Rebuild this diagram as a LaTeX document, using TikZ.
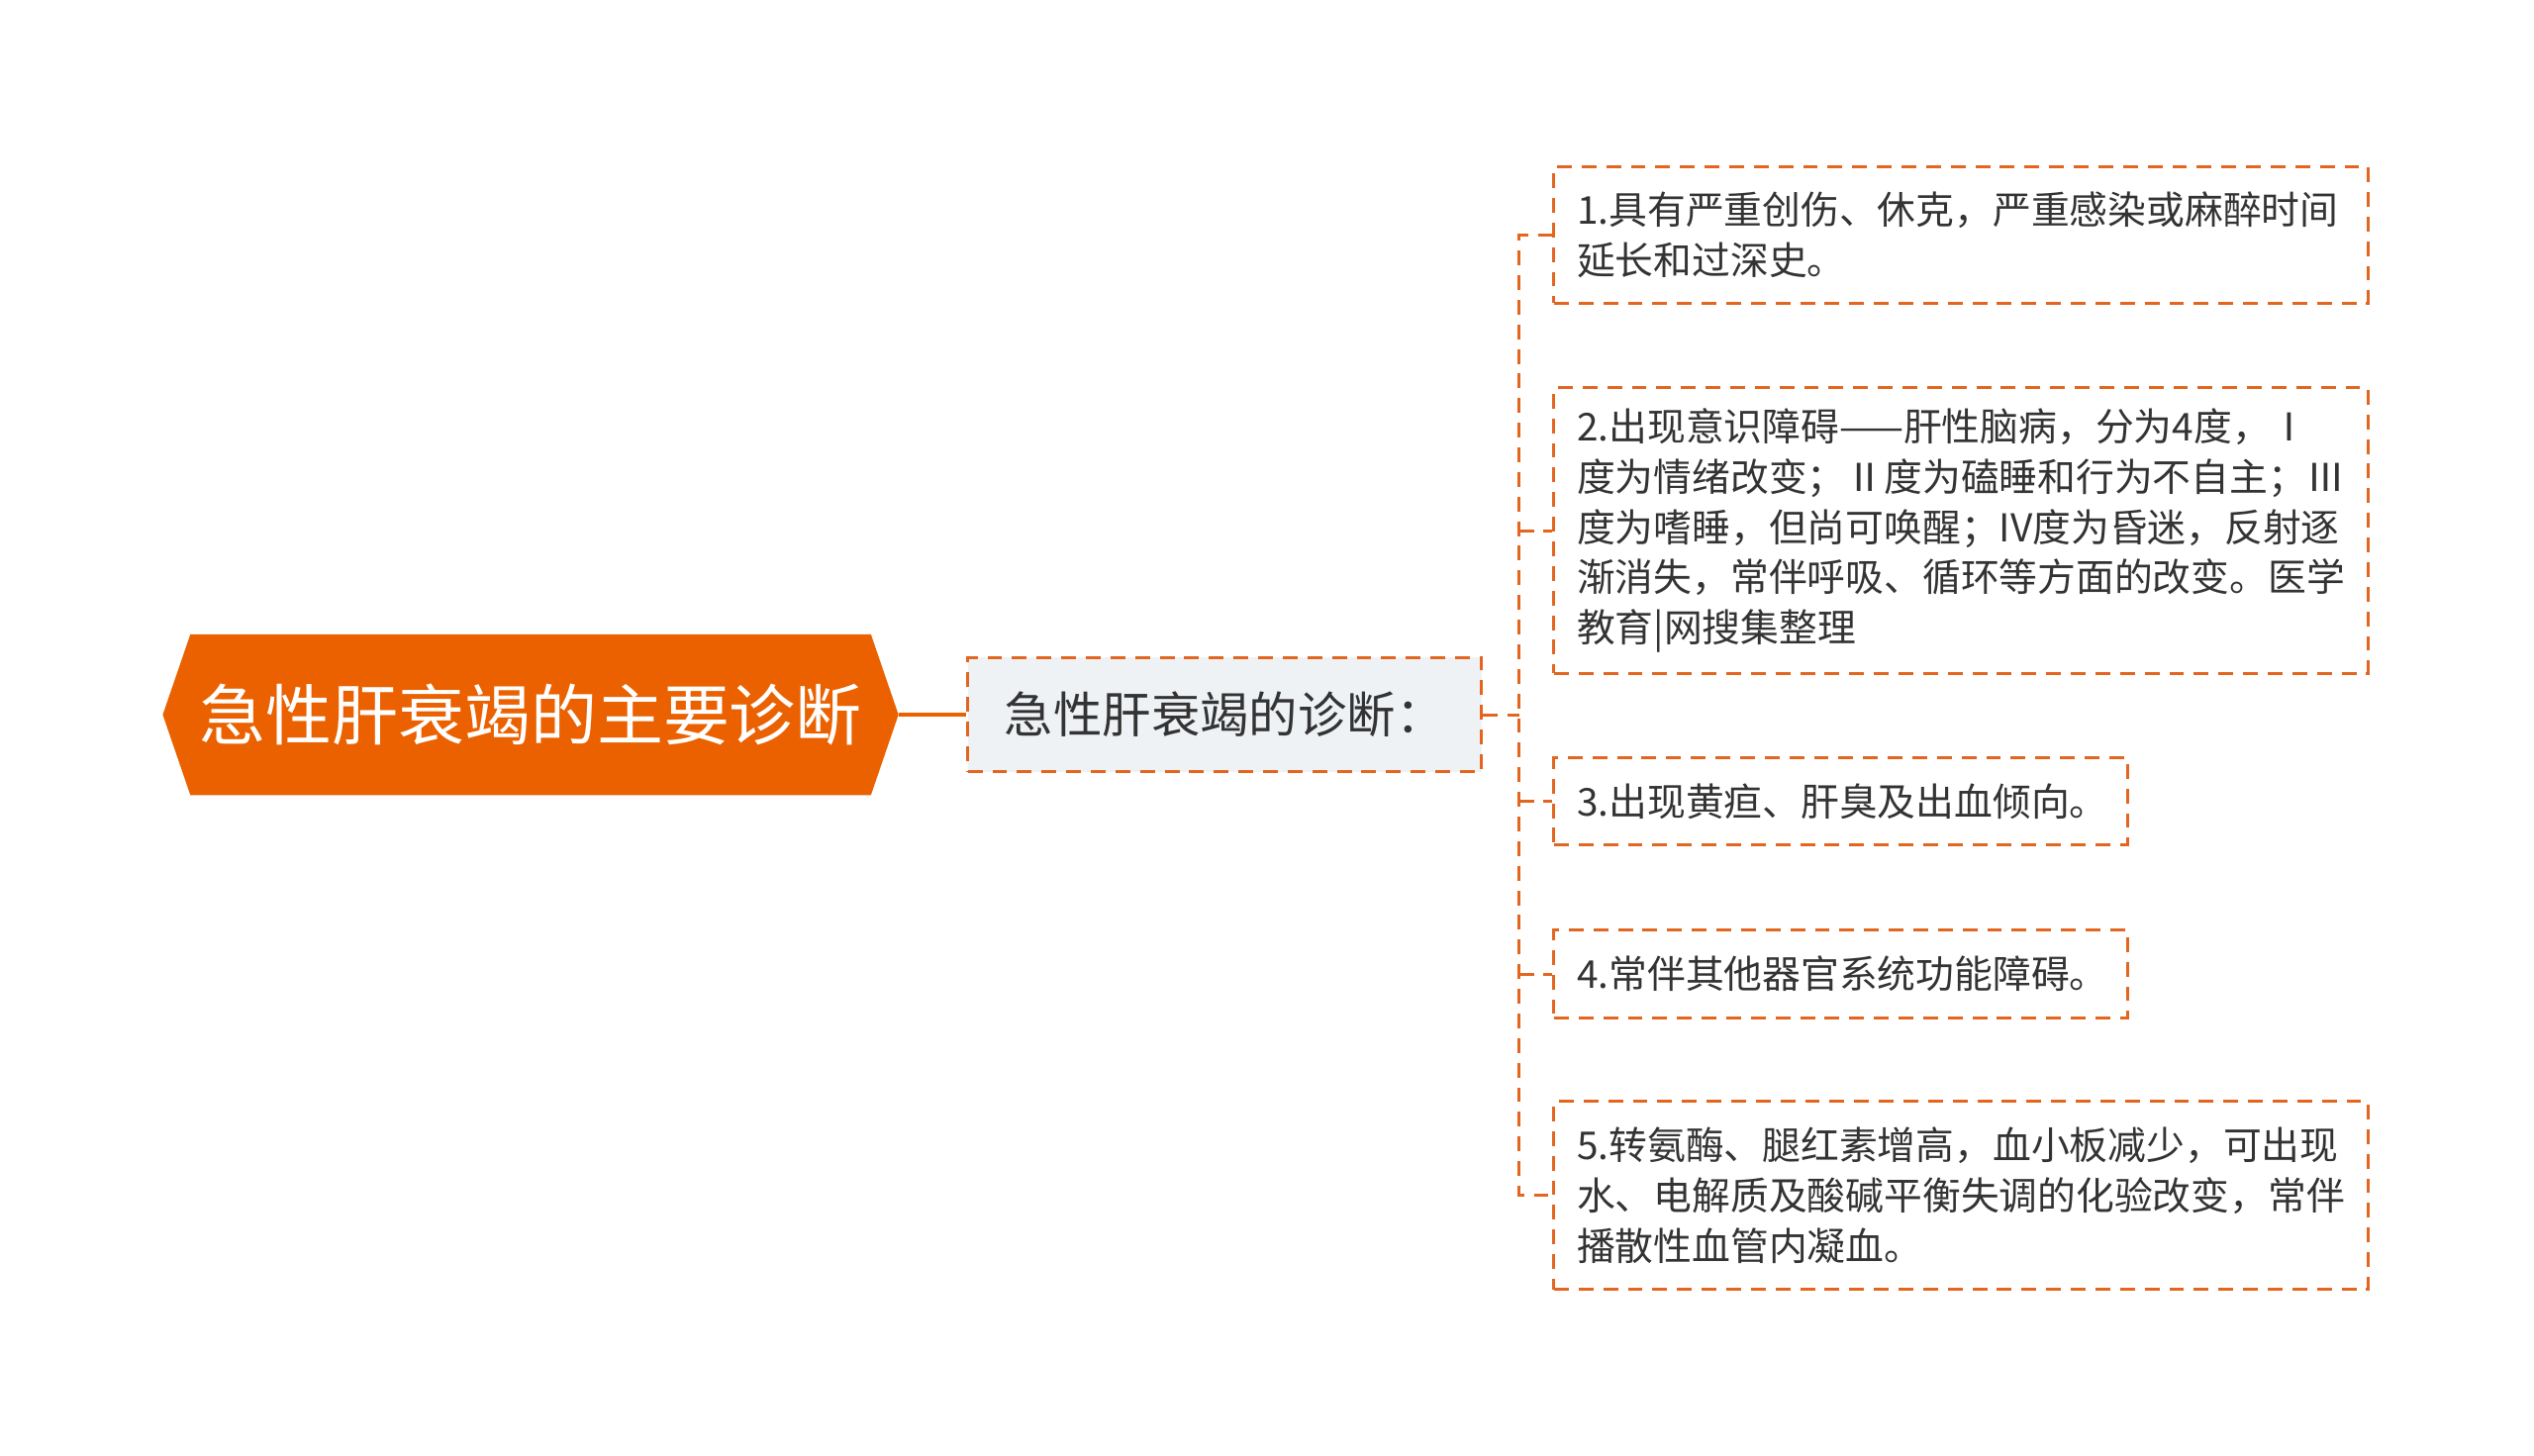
\documentclass[tikz,border=0pt]{standalone}
\usepackage{fontspec}
\setmainfont{Noto Sans CJK SC}
\usepackage{xcolor}
\usetikzlibrary{calc,backgrounds}

\definecolor{rootorange}{HTML}{EB6100}
\definecolor{linkorange}{HTML}{E2661F}
\definecolor{childgray}{HTML}{EFF2F5}
\definecolor{textdark}{HTML}{333333}

\begin{document}
\begin{tikzpicture}[x=0.3pt,y=-0.3pt,
  link/.style={linkorange,line width=0.9pt,dash pattern=on 4.5pt off 3pt},
  childbox/.style={link,draw,fill=childgray,minimum width=156.6pt,minimum height=34.8pt,
    inner sep=0pt,text=textdark,font=\fontsize{14.9pt}{17pt}\selectfont},
  leafbox/.style={link,draw,anchor=west,align=left,inner xsep=7pt,inner ysep=0pt,
    text=textdark,font=\fontsize{11.7pt}{15.3pt}\selectfont},
  wide/.style={text width=234.1pt},
  narrow/.style={text width=160.9pt}]

\useasboundingbox (0,0) rectangle (2574,1479);

% Root
\node[minimum width=223.8pt,minimum height=48.6pt,inner sep=0pt,text=white,
  font=\fontsize{20.2pt}{24pt}\selectfont] (root) at (539,726) {急性肝衰竭的主要诊断};
\begin{pgfonlayer}{background}
\fill[rootorange] ($(root.north west)+(8.4pt,0pt)$) -- ($(root.north east)+(-8.4pt,0pt)$)
  -- (root.east) -- ($(root.south east)+(-8.4pt,0pt)$)
  -- ($(root.south west)+(8.4pt,0pt)$) -- (root.west) -- cycle;
\end{pgfonlayer}

% Child
\node[childbox] (child) at (1244,726) {急性肝衰竭的诊断：};
\draw[rootorange,line width=1.2pt] (root.east) -- (child.west);

% Leaves
\node[leafbox,wide,minimum height=41.7pt] (cause1) at (1577,238.5)
  {1.具有严重创伤、休克，严重感染或麻醉时间\\延长和过深史。};
\node[leafbox,wide,minimum height=87pt] (cause2) at (1577,539)
  {2.出现意识障碍——肝性脑病，分为4度，Ⅰ\\度为情绪改变；Ⅱ度为磕睡和行为不自主；Ⅲ\\度为嗜睡，但尚可唤醒；IV度为昏迷，反射逐\\渐消失，常伴呼吸、循环等方面的改变。医学\\教育|网搜集整理};
\node[leafbox,narrow,minimum height=26.4pt] (cause3) at (1577,814)
  {3.出现黄疸、肝臭及出血倾向。};
\node[leafbox,narrow,minimum height=26.7pt] (cause4) at (1577,989.5)
  {4.常伴其他器官系统功能障碍。};
\node[leafbox,wide,minimum height=57.3pt] (cause5) at (1577,1214.5)
  {5.转氨酶、腿红素增高，血小板减少，可出现\\水、电解质及酸碱平衡失调的化验改变，常伴\\播散性血管内凝血。};

% Connectors
\coordinate (bus) at (1543,726);
\draw[link] (child.east) -- (bus);
\draw[link] (cause1.west) -| (bus) |- (cause5.west);
\foreach \n in {2,3,4}
  \draw[link] (bus |- cause\n.west) -- (cause\n.west);

\end{tikzpicture}
\end{document}
